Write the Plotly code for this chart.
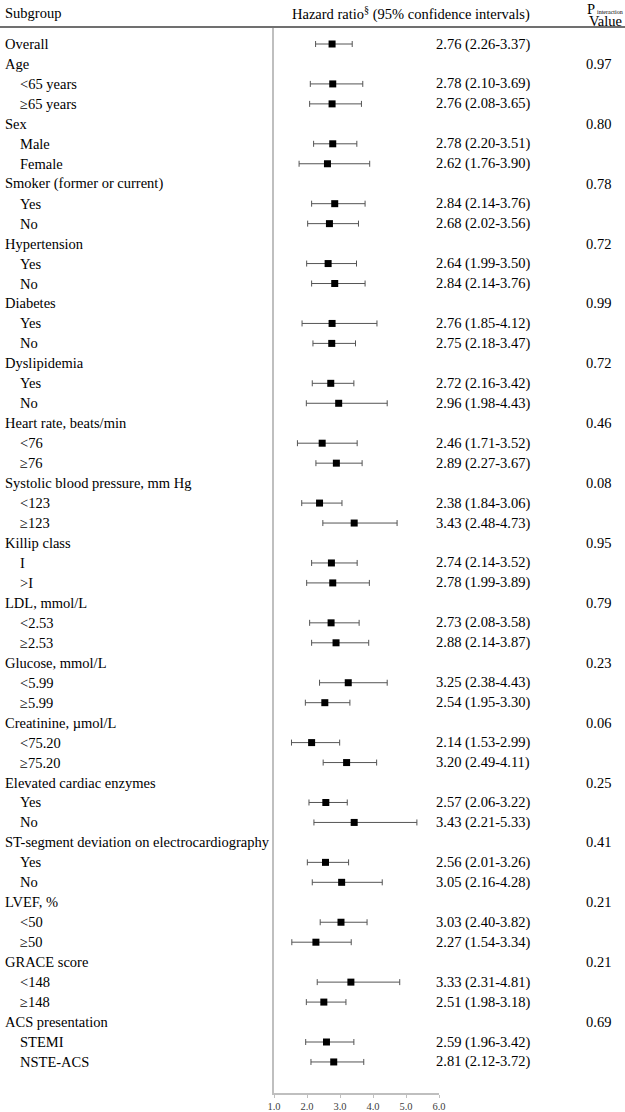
import plotly.graph_objects as go

# Subgroup data (hazard ratio, 95% CI, P for interaction)
groups = ["Age", "Sex", "Smoker (former or current)", "Hypertension", "Diabetes",
          "Dyslipidemia", "Heart rate, beats/min", "Systolic blood pressure, mm Hg",
          "Killip class", "LDL, mmol/L", "Glucose, mmol/L", "Creatinine, µmol/L",
          "Elevated cardiac enzymes", "ST-segment deviation on electrocardiography",
          "LVEF, %", "GRACE score", "ACS presentation"]
subgroups = [["<65 years", "≥65 years"], ["Male", "Female"], ["Yes", "No"], ["Yes", "No"],
             ["Yes", "No"], ["Yes", "No"], ["<76", "≥76"], ["<123", "≥123"], ["I", ">I"],
             ["<2.53", "≥2.53"], ["<5.99", "≥5.99"], ["<75.20", "≥75.20"], ["Yes", "No"],
             ["Yes", "No"], ["<50", "≥50"], ["<148", "≥148"], ["STEMI", "NSTE-ACS"]]
hr = [[2.78, 2.76], [2.78, 2.62], [2.84, 2.68], [2.64, 2.84], [2.76, 2.75], [2.72, 2.96],
      [2.46, 2.89], [2.38, 3.43], [2.74, 2.78], [2.73, 2.88], [3.25, 2.54], [2.14, 3.20],
      [2.57, 3.43], [2.56, 3.05], [3.03, 2.27], [3.33, 2.51], [2.59, 2.81]]
ci_low = [[2.10, 2.08], [2.20, 1.76], [2.14, 2.02], [1.99, 2.14], [1.85, 2.18], [2.16, 1.98],
          [1.71, 2.27], [1.84, 2.48], [2.14, 1.99], [2.08, 2.14], [2.38, 1.95], [1.53, 2.49],
          [2.06, 2.21], [2.01, 2.16], [2.40, 1.54], [2.31, 1.98], [1.96, 2.12]]
ci_high = [[3.69, 3.65], [3.51, 3.90], [3.76, 3.56], [3.50, 3.76], [4.12, 3.47], [3.42, 4.43],
           [3.52, 3.67], [3.06, 4.73], [3.52, 3.89], [3.58, 3.87], [4.43, 3.30], [2.99, 4.11],
           [3.22, 5.33], [3.26, 4.28], [3.82, 3.34], [4.81, 3.18], [3.42, 3.72]]
p_interaction = ["0.97", "0.80", "0.78", "0.72", "0.99", "0.72", "0.46", "0.08", "0.95",
                 "0.79", "0.23", "0.06", "0.25", "0.41", "0.21", "0.21", "0.69"]
overall = ("Overall", 2.76, 2.26, 3.37)
x_ticks = [1, 2, 3, 4, 5, 6]

W, H = 625, 1112
TOP, BOTTOM = 28, 19
ROW0, ROW_STEP = 44, 19.96
FONT = "Liberation Serif"
FS = 14.5

# flatten into rows
labels, indent, xs, ys, lo, hi, hr_text, p_rows = [], [], [], [], [], [], [], []
row = 0
labels.append(overall[0]); indent.append(False)
xs.append(overall[1]); ys.append(row); lo.append(overall[2]); hi.append(overall[3])
hr_text.append((row, f"{overall[1]:.2f} ({overall[2]:.2f}-{overall[3]:.2f})"))
for g, subs, h, l, u, p in zip(groups, subgroups, hr, ci_low, ci_high, p_interaction):
    row += 1
    labels.append(g); indent.append(False)
    p_rows.append((row, p))
    for s, hv, lv, uv in zip(subs, h, l, u):
        row += 1
        labels.append(s); indent.append(True)
        xs.append(hv); ys.append(row); lo.append(lv); hi.append(uv)
        hr_text.append((row, f"{hv:.2f} ({lv:.2f}-{uv:.2f})"))

plot_h = H - TOP - BOTTOM
y_top = -(ROW0 - TOP) / ROW_STEP
y_bot = y_top + plot_h / ROW_STEP

fig = go.Figure()
fig.add_trace(go.Scatter(
    x=xs, y=ys, mode="markers",
    marker=dict(symbol="square", size=7, color="black"),
    error_x=dict(type="data", symmetric=False,
                 array=[u - x for u, x in zip(hi, xs)],
                 arrayminus=[x - l for x, l in zip(xs, lo)],
                 color="#555555", thickness=1, width=3),
    showlegend=False, hoverinfo="skip",
))

ann = []
for i, (lab, ind) in enumerate(zip(labels, indent)):
    ann.append(dict(x=(18 if ind else 3) / W, y=i, xref="paper", yref="y", text=lab,
                    xanchor="left", yanchor="middle", showarrow=False))
for r, t in hr_text:
    ann.append(dict(x=532 / W, y=r, xref="paper", yref="y", text=t,
                    xanchor="right", yanchor="middle", showarrow=False))
for r, t in p_rows:
    ann.append(dict(x=613 / W, y=r, xref="paper", yref="y", text=t,
                    xanchor="right", yanchor="middle", showarrow=False))

def py(px):
    return 1 + (TOP - px) / plot_h

ann += [
    dict(x=3 / W, y=py(13), xref="paper", yref="paper", text="Subgroup",
         xanchor="left", yanchor="middle", showarrow=False),
    dict(x=532 / W, y=py(13), xref="paper", yref="paper",
         text="Hazard ratio<sup>§</sup> (95% confidence intervals)",
         xanchor="right", yanchor="middle", showarrow=False),
    dict(x=597 / W, y=py(9), xref="paper", yref="paper", text="P",
         xanchor="right", yanchor="middle", showarrow=False),
    dict(x=595 / W, y=py(11.5), xref="paper", yref="paper", text="interaction",
         font=dict(size=6), xanchor="left", yanchor="middle", showarrow=False),
    dict(x=605 / W, y=py(21.5), xref="paper", yref="paper", text="Value",
         xanchor="center", yanchor="middle", showarrow=False),
]

fig.update_layout(
    width=W, height=H,
    margin=dict(l=0, r=0, t=TOP, b=BOTTOM, autoexpand=False),
    paper_bgcolor="white", plot_bgcolor="white",
    font=dict(family=FONT, size=FS, color="black"),
    annotations=ann,
    shapes=[dict(type="line", xref="paper", yref="paper", x0=0, x1=1,
                 y0=py(27), y1=py(27), line=dict(color="#404040", width=1.5))],
    xaxis=dict(domain=[274 / W, 439 / W], range=[1, 6], tickvals=x_ticks,
               ticktext=[f"{v:.1f}" for v in x_ticks], ticks="outside", ticklen=3,
               tickcolor="#bfbfbf", showline=True, linecolor="#bfbfbf", linewidth=1.5,
               showgrid=False, zeroline=False,
               tickfont=dict(family=FONT, size=10.5, color="#404040")),
    yaxis=dict(range=[y_bot, y_top], showline=True, linecolor="#bfbfbf", linewidth=1.5,
               showticklabels=False, showgrid=False, zeroline=False, ticks=""),
)

fig.write_html("out.html", config={"displayModeBar": False},
               post_script="document.body.style.margin='0';")
